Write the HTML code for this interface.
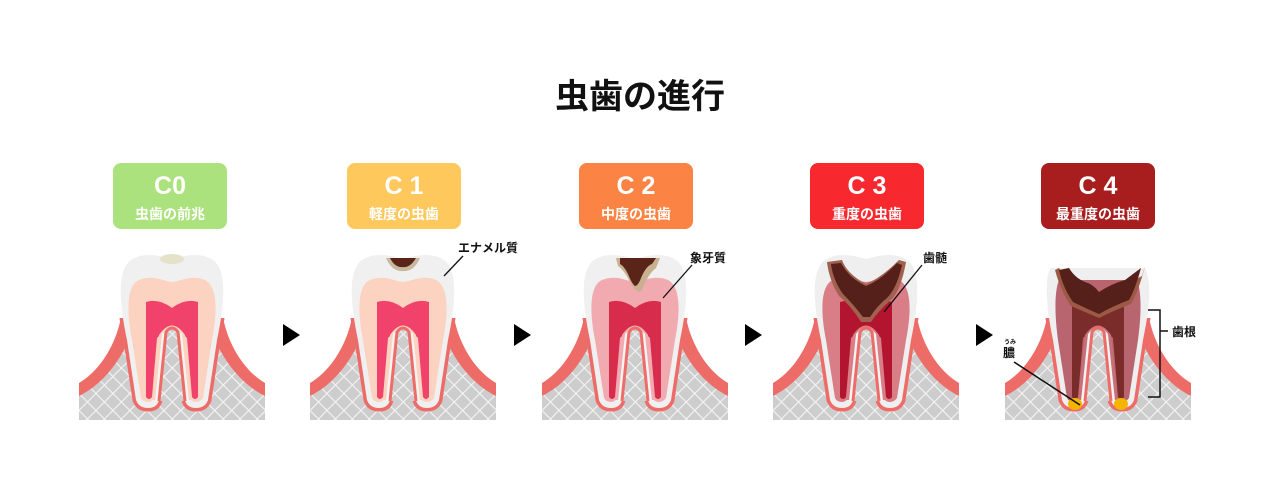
<!DOCTYPE html>
<html><head><meta charset="utf-8"><style>
body{margin:0;width:1280px;height:502px;background:#fff;overflow:hidden;font-family:"Liberation Sans","Noto Sans CJK JP",sans-serif;}
svg{position:absolute;left:0;top:0}
</style></head><body>
<svg width="1280" height="502" viewBox="0 0 1280 502" xmlns="http://www.w3.org/2000/svg" font-family="Liberation Sans, Noto Sans CJK JP, sans-serif">
<defs>
<pattern id="lat" width="12" height="12" patternUnits="userSpaceOnUse" patternTransform="rotate(45)">
<rect width="12" height="12" fill="#cdcdcd"/>
<path d="M0 0H12M0 0V12" stroke="#f4f4f4" stroke-width="2.2"/>
</pattern>
<clipPath id="below"><rect x="0" y="78" width="186" height="110"/></clipPath>
<g id="base">
<path d="M0,157 L0,143 C22,130 36,104 41,82 Q44,76 52,78 L134,78 Q142,76 145,82 C150,104 164,130 186,143 L186,157 Z" fill="#ee6c68"/>
<path d="M0,180 L0,156 C24,144 40,122 50,100 L136,100 C146,122 162,144 186,156 L186,180 Z" fill="url(#lat)"/>
</g>
<path id="tooth" d="M48,100 C40,62 38,30 52,20 C64,12 80,15 93,19 C106,15 122,12 134,20 C148,30 146,62 138,100 L129,160 Q126,168 117,168 Q108,168 106,160 L99,92 Q93,84 87,92 L80,160 Q78,168 69,168 Q60,168 57,160 Z"/>
<path id="dentin" d="M53,100 C47,70 48,45 60,40 C75,34 86,42 93,42 C100,42 112,34 126,40 C138,46 139,70 133,100 L124,158 Q121,162 117,162 Q112,162 111,158 L104,94 Q93,78 82,94 L75,158 Q73,162 69,162 Q64,162 62,158 Z"/>
<path id="pulp" d="M67,62 Q80,58 93,68 Q106,58 119,62 L119,157 Q116,161 113,157 L108,98 Q93,82 78,98 L73,157 Q70,161 67,157 Z"/>
<path id="innerU" d="M73,160 L80,95 Q93,76 106,95 L113,160 Z"/>
<path id="innerW" d="M76,161 L83,94 Q93,80 103,94 L110,161 Z" fill="#f4f4f4"/>
<g id="gap">
<path d="M80,161 L87,92 Q93,84 99,92 L106,161 Z" fill="url(#lat)"/>
<path d="M80,161 L87,92 Q93,84 99,92 L106,161" fill="none" stroke="#ee6c68" stroke-width="3"/>
</g>
</defs>

<text x="640" y="108" text-anchor="middle" font-size="34" font-weight="bold" fill="#111">虫歯の進行</text>

<g font-weight="bold" fill="#fff" text-anchor="middle">
<rect x="113" y="163" width="114" height="66" rx="8" fill="#ace27d"/>
<text x="170" y="194" font-size="25">C0</text><text x="170" y="219" font-size="14">虫歯の前兆</text>
<rect x="347" y="163" width="114" height="66" rx="8" fill="#fec85d"/>
<text x="404" y="194" font-size="25">C 1</text><text x="404" y="219" font-size="14">軽度の虫歯</text>
<rect x="579" y="163" width="114" height="66" rx="8" fill="#fb8343"/>
<text x="636" y="194" font-size="25">C 2</text><text x="636" y="219" font-size="14">中度の虫歯</text>
<rect x="810" y="163" width="114" height="66" rx="8" fill="#f8282f"/>
<text x="867" y="194" font-size="25">C 3</text><text x="867" y="219" font-size="14">重度の虫歯</text>
<rect x="1041" y="163" width="114" height="66" rx="8" fill="#a81d1d"/>
<text x="1098" y="194" font-size="25">C 4</text><text x="1098" y="219" font-size="14">最重度の虫歯</text>
</g>

<g fill="#000">
<path d="M283,324 L300,335 L283,346 Z"/><path d="M514,324 L531,335 L514,346 Z"/>
<path d="M745,324 L762,335 L745,346 Z"/><path d="M976,324 L993,335 L976,346 Z"/>
</g>

<!-- C0 -->
<g transform="translate(79,240)">
<use href="#base"/>
<use href="#tooth" fill="none" stroke="#ee6c68" stroke-width="7" clip-path="url(#below)"/>
<use href="#tooth" fill="#f0f0f0"/>
<use href="#dentin" fill="#fcd2c0"/>
<use href="#pulp" fill="#f0426a"/>
<use href="#innerU" fill="#fcd2c0"/><use href="#innerW"/><use href="#gap"/>
<ellipse cx="93" cy="19" rx="12" ry="5" fill="#e4e2c9"/>
</g>
<!-- C1 -->
<g transform="translate(310,240)">
<use href="#base"/>
<use href="#tooth" fill="none" stroke="#ee6c68" stroke-width="7" clip-path="url(#below)"/>
<use href="#tooth" fill="#f0f0f0"/>
<use href="#dentin" fill="#fcd2c0"/>
<use href="#pulp" fill="#f0426a"/>
<use href="#innerU" fill="#fcd2c0"/><use href="#innerW"/><use href="#gap"/>
<path d="M76,18 L110,18 Q104,32 93,31 Q82,32 76,18 Z" fill="#c9b8a0"/>
<path d="M80,18 L106,18 Q100,28 93,27 Q85,28 80,18 Z" fill="#5a2418"/>
</g>
<!-- C2 -->
<g transform="translate(542,240)">
<use href="#base"/>
<use href="#tooth" fill="none" stroke="#ee6c68" stroke-width="7" clip-path="url(#below)"/>
<use href="#tooth" fill="#f0f0f0"/>
<use href="#dentin" fill="#f2aab1"/>
<use href="#pulp" fill="#d82c4d"/>
<use href="#innerU" fill="#f2aab1"/><use href="#innerW"/><use href="#gap"/>
<path d="M74,18 L118,18 L114,28 Q106,34 100,50 L97,52 Q92,50 88,42 Q82,30 76,26 Z" fill="#c8b090"/>
<path d="M78,18 L114,18 L110,24 Q104,26 99,38 Q96,46 93,46 Q90,44 86,34 Q82,26 78,24 Z" fill="#5a2418"/>
</g>
<!-- C3 -->
<g transform="translate(773,240)">
<use href="#base"/>
<use href="#tooth" fill="none" stroke="#ee6c68" stroke-width="7" clip-path="url(#below)"/>
<use href="#tooth" fill="#efefef"/>
<use href="#dentin" fill="#d97d87"/>
<use href="#pulp" fill="#b3142f"/>
<use href="#innerU" fill="#d97d87"/><use href="#innerW"/><use href="#gap"/>
<path d="M54,22 L69,20 Q74,34 93,44 Q108,38 126,20 L133,22 Q128,50 118,60 Q106,70 98,82 L88,82 Q78,66 66,56 Q56,40 54,22 Z" fill="#a0614f"/>
<path d="M58,24 L68,23 Q76,38 93,46 Q108,40 124,23 L129,25 Q124,48 114,58 Q104,66 97,77 L90,77 Q80,64 70,54 Q60,40 58,24 Z" fill="#55201a"/>
</g>
<!-- C4 -->
<g transform="translate(1005,240)">
<use href="#base"/>
<use href="#tooth" fill="none" stroke="#ee6c68" stroke-width="7" clip-path="url(#below)"/>
<path d="M48,100 C40,62 40,34 46,28 L140,28 C146,40 146,62 138,100 L129,160 Q126,168 117,168 Q108,168 106,160 L99,92 Q93,84 87,92 L80,160 Q78,168 69,168 Q60,168 57,160 Z" fill="#efefef"/>
<path d="M53,100 C49,70 50,50 54,40 L132,40 C136,50 137,70 133,100 L124,158 Q121,162 117,162 Q112,162 111,158 L104,94 Q93,78 82,94 L75,158 Q73,162 69,162 Q64,162 62,158 Z" fill="#b86570"/>
<use href="#pulp" fill="#7a2c2a"/>
<use href="#innerU" fill="#c7707a"/><use href="#innerW"/><use href="#gap"/>
<path d="M50,30 L54,28 Q62,40 72,44 Q84,46 94,56 Q108,48 122,44 L137,36 L140,26 Q134,50 126,64 Q110,70 94,78 Q80,72 66,66 Q56,52 50,30 Z" fill="#9c5a44"/>
<path d="M54,30 L64,28 Q70,38 80,42 Q88,44 94,52 Q106,44 120,40 L136,28 Q130,50 124,60 Q108,66 94,74 Q80,68 68,62 Q58,48 54,30 Z" fill="#55201a"/>
<ellipse cx="70" cy="164" rx="7" ry="6" fill="#f5b400"/>
<ellipse cx="116" cy="164" rx="7" ry="6" fill="#f5b400"/>
</g>

<g fill="#111" font-size="12" font-weight="bold">
<line x1="444" y1="276" x2="463" y2="256" stroke="#111" stroke-width="1.3"/>
<text x="458" y="252">エナメル質</text>
<line x1="663" y1="298" x2="692" y2="265" stroke="#111" stroke-width="1.3"/>
<text x="690" y="262">象牙質</text>
<line x1="884" y1="312" x2="922" y2="265" stroke="#111" stroke-width="1.3"/>
<text x="923" y="262">歯髄</text>
<path d="M1148,310 H1160 V397 H1148 M1160,331 H1168" fill="none" stroke="#111" stroke-width="1.5"/>
<text x="1172" y="336">歯根</text>
<text x="1003" y="357">膿</text>
<text x="1004" y="344" font-size="6">うみ</text>
<line x1="1014" y1="362" x2="1080" y2="405" stroke="#111" stroke-width="1.5"/>
</g>
</svg>
</body></html>
